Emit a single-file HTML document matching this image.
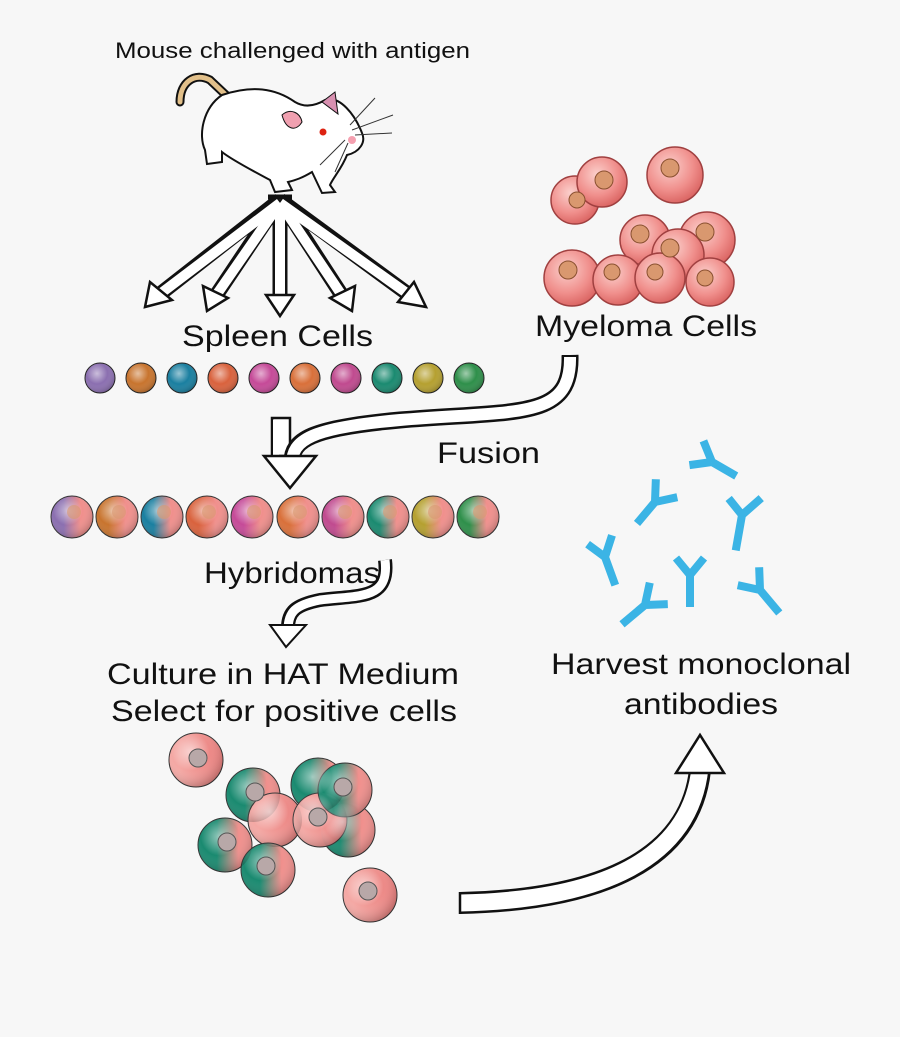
<!DOCTYPE html>
<html><head><meta charset="utf-8"><style>
html,body{margin:0;padding:0;background:#f7f7f7;}
svg{display:block;}
text{font-family:"Liberation Sans",sans-serif;fill:#111;}
</style></head><body>
<svg width="900" height="1037" viewBox="0 0 900 1037" xmlns="http://www.w3.org/2000/svg">
<defs>
<radialGradient id="shine" cx="0.4" cy="0.35" r="0.7">
<stop offset="0" stop-color="#fff" stop-opacity="0.55"/><stop offset="0.5" stop-color="#fff" stop-opacity="0"/><stop offset="1" stop-color="#000" stop-opacity="0.25"/>
</radialGradient>
<radialGradient id="pink" cx="0.4" cy="0.35" r="0.7">
<stop offset="0" stop-color="#fbd0cc"/><stop offset="0.6" stop-color="#f08f8c"/><stop offset="1" stop-color="#d8605e"/>
</radialGradient>
<linearGradient id="h0"><stop offset="0.3" stop-color="#8b6fb0"/><stop offset="0.7" stop-color="#f08f8c"/></linearGradient>
<linearGradient id="h1"><stop offset="0.3" stop-color="#c8742e"/><stop offset="0.7" stop-color="#f08f8c"/></linearGradient>
<linearGradient id="h2"><stop offset="0.3" stop-color="#1a7fa0"/><stop offset="0.7" stop-color="#f08f8c"/></linearGradient>
<linearGradient id="h3"><stop offset="0.3" stop-color="#d9623d"/><stop offset="0.7" stop-color="#f08f8c"/></linearGradient>
<linearGradient id="h4"><stop offset="0.3" stop-color="#c54a98"/><stop offset="0.7" stop-color="#f08f8c"/></linearGradient>
<linearGradient id="h5"><stop offset="0.3" stop-color="#d9703a"/><stop offset="0.7" stop-color="#f08f8c"/></linearGradient>
<linearGradient id="h6"><stop offset="0.3" stop-color="#c04a8f"/><stop offset="0.7" stop-color="#f08f8c"/></linearGradient>
<linearGradient id="h7"><stop offset="0.3" stop-color="#1a8a70"/><stop offset="0.7" stop-color="#f08f8c"/></linearGradient>
<linearGradient id="h8"><stop offset="0.3" stop-color="#b5a030"/><stop offset="0.7" stop-color="#f08f8c"/></linearGradient>
<linearGradient id="h9"><stop offset="0.3" stop-color="#2e8f4a"/><stop offset="0.7" stop-color="#f08f8c"/></linearGradient>
<linearGradient id="hg" x1="0" y1="0" x2="1" y2="0"><stop offset="0.35" stop-color="#1a8a70"/><stop offset="0.75" stop-color="#f08f8c"/></linearGradient>
<linearGradient id="hp" x1="0" y1="0" x2="1" y2="0"><stop offset="0.2" stop-color="#f4a8a4"/><stop offset="1" stop-color="#e97c7a"/></linearGradient>
</defs>

<text x="115" y="58" font-size="22" textLength="355" lengthAdjust="spacingAndGlyphs">Mouse challenged with antigen</text>

<!-- mouse -->
<path d="M180,102 C180,82 195,72 210,80 L228,97" fill="none" stroke="#111" stroke-width="9" stroke-linecap="round"/>
<path d="M180,102 C180,82 195,72 210,80 L228,97" fill="none" stroke="#e2c08a" stroke-width="5" stroke-linecap="round"/>
<path d="M222,95 C252,85 275,88 295,102 C305,108 315,106 325,100 C340,95 355,115 362,133 C366,142 360,152 347,155 C342,168 333,178 330,185 L335,192 L322,193 L312,172 C302,178 296,180 288,182 L292,190 L275,192 L270,180 C255,172 232,160 222,152 L222,162 L207,164 L205,150 C198,135 203,108 222,95 Z" fill="#fff" stroke="#111" stroke-width="2"/>
<path d="M282,115 C290,108 300,112 302,122 C296,132 286,130 282,115Z" fill="#f0a0b0" stroke="#111" stroke-width="1"/>
<path d="M322,102 L335,92 L338,114 Z" fill="#d890b0" stroke="#111" stroke-width="1"/>
<circle cx="323" cy="132" r="3.5" fill="#d21"/>
<circle cx="352" cy="140" r="4" fill="#f5a0b0"/>
<g stroke="#333" stroke-width="1" fill="none"><path d="M350,125 L375,98"/><path d="M352,130 L393,115"/><path d="M355,135 L392,133"/><path d="M345,140 L320,165"/><path d="M348,143 L335,172"/></g>

<!-- fan arrows -->
<path d="M268,197 L292,197" stroke="#111" stroke-width="5"/>
<g stroke="#111" stroke-width="15" fill="none">
<path d="M280,200 L160,294"/><path d="M280,200 L217,294"/><path d="M280,200 L280,296"/><path d="M280,200 L341,294"/><path d="M280,200 L408,294"/>
</g>
<g stroke="#fff" stroke-width="10" fill="none">
<path d="M280,203 L160,294"/><path d="M280,203 L217,294"/><path d="M280,203 L280,296"/><path d="M280,203 L341,294"/><path d="M280,203 L408,294"/>
</g>
<g fill="#fff" stroke="#111" stroke-width="2.5">
<polygon points="145,307 150,282 172,300"/>
<polygon points="207,311 203,286 228,298"/>
<polygon points="280,316 266,295 294,295"/>
<polygon points="352,311 330,298 355,286"/>
<polygon points="426,307 398,302 414,282"/>
</g>

<text x="182" y="346" font-size="30" textLength="191" lengthAdjust="spacingAndGlyphs">Spleen Cells</text>

<!-- spleen cells -->
<g stroke="#222" stroke-width="1">
<circle cx="100" cy="378" r="15" fill="#8b6fb0"/><circle cx="141" cy="378" r="15" fill="#c8742e"/><circle cx="182" cy="378" r="15" fill="#1a7fa0"/><circle cx="223" cy="378" r="15" fill="#d9623d"/><circle cx="264" cy="378" r="15" fill="#c54a98"/><circle cx="305" cy="378" r="15" fill="#d9703a"/><circle cx="346" cy="378" r="15" fill="#c04a8f"/><circle cx="387" cy="378" r="15" fill="#1a8a70"/><circle cx="428" cy="378" r="15" fill="#b5a030"/><circle cx="469" cy="378" r="15" fill="#2e8f4a"/>
</g>
<g fill="url(#shine)"><circle cx="100" cy="378" r="15"/><circle cx="141" cy="378" r="15"/><circle cx="182" cy="378" r="15"/><circle cx="223" cy="378" r="15"/><circle cx="264" cy="378" r="15"/><circle cx="305" cy="378" r="15"/><circle cx="346" cy="378" r="15"/><circle cx="387" cy="378" r="15"/><circle cx="428" cy="378" r="15"/><circle cx="469" cy="378" r="15"/></g>

<!-- myeloma cells -->
<g stroke="#a04040" stroke-width="1.5" fill="url(#pink)">
<circle cx="575" cy="200" r="24"/><circle cx="602" cy="182" r="25"/><circle cx="675" cy="175" r="28"/>
<circle cx="645" cy="240" r="25"/><circle cx="707" cy="240" r="28"/><circle cx="678" cy="255" r="26"/>
<circle cx="572" cy="278" r="28"/><circle cx="618" cy="280" r="25"/><circle cx="660" cy="278" r="25"/><circle cx="710" cy="282" r="24"/>
</g>
<g fill="#d9986f" stroke="#8a5030" stroke-width="1">
<circle cx="577" cy="200" r="8"/><circle cx="604" cy="180" r="9"/><circle cx="670" cy="168" r="9"/><circle cx="640" cy="234" r="9"/><circle cx="705" cy="232" r="9"/><circle cx="670" cy="248" r="9"/><circle cx="568" cy="270" r="9"/><circle cx="612" cy="272" r="8"/><circle cx="655" cy="272" r="8"/><circle cx="705" cy="278" r="8"/>
</g>
<text x="535" y="336" font-size="30" textLength="222" lengthAdjust="spacingAndGlyphs">Myeloma Cells</text>

<!-- fusion arrow -->
<rect x="272" y="418" width="18" height="38" fill="#fff" stroke="#111" stroke-width="2.5"/>
<path d="M570,355 C572,420 520,410 400,420 C310,428 292,440 292,462" fill="none" stroke="#111" stroke-width="17"/>
<path d="M570,355 C572,420 520,410 400,420 C310,428 292,440 292,464" fill="none" stroke="#fff" stroke-width="12"/>
<path d="M276,420 L276,460" stroke="#fff" stroke-width="6"/>
<path d="M562,356 L578,356" stroke="#111" stroke-width="2"/>
<polygon points="264,456 316,456 290,488" fill="#fff" stroke="#111" stroke-width="2.5"/>
<text x="437" y="463" font-size="30" textLength="103" lengthAdjust="spacingAndGlyphs">Fusion</text>

<!-- hybridomas -->
<g stroke="#333" stroke-width="1">
<circle cx="72" cy="517" r="21" fill="url(#h0)"/><circle cx="117" cy="517" r="21" fill="url(#h1)"/><circle cx="162" cy="517" r="21" fill="url(#h2)"/><circle cx="207" cy="517" r="21" fill="url(#h3)"/><circle cx="252" cy="517" r="21" fill="url(#h4)"/><circle cx="298" cy="517" r="21" fill="url(#h5)"/><circle cx="343" cy="517" r="21" fill="url(#h6)"/><circle cx="388" cy="517" r="21" fill="url(#h7)"/><circle cx="433" cy="517" r="21" fill="url(#h8)"/><circle cx="478" cy="517" r="21" fill="url(#h9)"/>
</g>
<g fill="url(#shine)"><circle cx="72" cy="517" r="21"/><circle cx="117" cy="517" r="21"/><circle cx="162" cy="517" r="21"/><circle cx="207" cy="517" r="21"/><circle cx="252" cy="517" r="21"/><circle cx="298" cy="517" r="21"/><circle cx="343" cy="517" r="21"/><circle cx="388" cy="517" r="21"/><circle cx="433" cy="517" r="21"/><circle cx="478" cy="517" r="21"/></g>
<g fill="#d9986f" fill-opacity="0.6"><circle cx="74" cy="512" r="7"/><circle cx="119" cy="512" r="7"/><circle cx="164" cy="512" r="7"/><circle cx="209" cy="512" r="7"/><circle cx="254" cy="512" r="7"/><circle cx="300" cy="512" r="7"/><circle cx="345" cy="512" r="7"/><circle cx="390" cy="512" r="7"/><circle cx="435" cy="512" r="7"/><circle cx="480" cy="512" r="7"/></g>

<!-- arrow 2 -->
<path d="M385,560 C390,600 360,595 320,600 C295,605 288,612 288,628" fill="none" stroke="#111" stroke-width="14"/>
<path d="M385,560 C390,600 360,595 320,600 C295,605 288,612 288,630" fill="none" stroke="#fff" stroke-width="9"/>
<polygon points="270,625 306,625 286,647" fill="#fff" stroke="#111" stroke-width="2"/>

<text x="204" y="583" font-size="30" textLength="176" lengthAdjust="spacingAndGlyphs">Hybridomas</text>

<text x="107" y="684" font-size="30" textLength="352" lengthAdjust="spacingAndGlyphs">Culture in HAT Medium</text>
<text x="111" y="721" font-size="30" textLength="346" lengthAdjust="spacingAndGlyphs">Select for positive cells</text>

<!-- selected cells -->
<g stroke="#333" stroke-width="1">
<circle cx="196" cy="760" r="27" fill="url(#hp)"/>
<circle cx="253" cy="795" r="27" fill="url(#hg)"/>
<circle cx="318" cy="785" r="27" fill="url(#hg)"/>
<circle cx="275" cy="820" r="27" fill="url(#hp)"/>
<circle cx="225" cy="845" r="27" fill="url(#hg)"/>
<circle cx="348" cy="830" r="27" fill="url(#hg)"/>
<circle cx="320" cy="820" r="27" fill="url(#hp)"/>
<circle cx="345" cy="790" r="27" fill="url(#hg)"/>
<circle cx="268" cy="870" r="27" fill="url(#hg)"/>
<circle cx="370" cy="895" r="27" fill="url(#hp)"/>
</g>
<g fill="url(#shine)"><circle cx="196" cy="760" r="27"/><circle cx="253" cy="795" r="27"/><circle cx="318" cy="785" r="27"/><circle cx="275" cy="820" r="27"/><circle cx="225" cy="845" r="27"/><circle cx="348" cy="830" r="27"/><circle cx="320" cy="820" r="27"/><circle cx="345" cy="790" r="27"/><circle cx="268" cy="870" r="27"/><circle cx="370" cy="895" r="27"/></g>
<g fill="#b8a8a8" stroke="#555" stroke-width="1"><circle cx="198" cy="758" r="9"/><circle cx="255" cy="792" r="9"/><circle cx="343" cy="787" r="9"/><circle cx="318" cy="817" r="9"/><circle cx="227" cy="842" r="9"/><circle cx="266" cy="866" r="9"/><circle cx="368" cy="891" r="9"/></g>

<!-- big arrow -->
<path d="M460,903 C600,900 690,860 700,770" fill="none" stroke="#111" stroke-width="22"/>
<path d="M460,903 C600,900 690,860 700,768" fill="none" stroke="#fff" stroke-width="17"/>
<path d="M460,892 L460,914" stroke="#111" stroke-width="2.5"/>
<polygon points="676,773 724,773 700,735" fill="#fff" stroke="#111" stroke-width="2.5"/>

<text x="551" y="674" font-size="30" textLength="300" lengthAdjust="spacingAndGlyphs">Harvest monoclonal</text>
<text x="624" y="714" font-size="30" textLength="154" lengthAdjust="spacingAndGlyphs">antibodies</text>

<!-- antibodies -->
<g stroke="#3bb4e5" stroke-width="8" stroke-linecap="butt" fill="none">
<g transform="translate(712,462) rotate(-60)"><path d="M0,0 L0,28 M0,0 L-14,-18 M0,0 L14,-18"/></g>
<g transform="translate(655,502) rotate(40)"><path d="M0,0 L0,28 M0,0 L-14,-18 M0,0 L14,-18"/></g>
<g transform="translate(742,515) rotate(10)"><path d="M0,0 L0,36 M0,0 L-16,-14 M0,0 L16,-20"/></g>
<g transform="translate(605,557) rotate(-20)"><path d="M0,0 L0,30 M0,0 L-12,-18 M0,0 L14,-18"/></g>
<g transform="translate(690,575)"><path d="M0,0 L0,32 M0,0 L-14,-17 M0,0 L14,-17"/></g>
<g transform="translate(645,605) rotate(50)"><path d="M0,0 L0,30 M0,0 L-14,-18 M0,0 L14,-18"/></g>
<g transform="translate(760,590) rotate(-40)"><path d="M0,0 L0,30 M0,0 L-14,-18 M0,0 L14,-18"/></g>
</g>
</svg>
</body></html>
